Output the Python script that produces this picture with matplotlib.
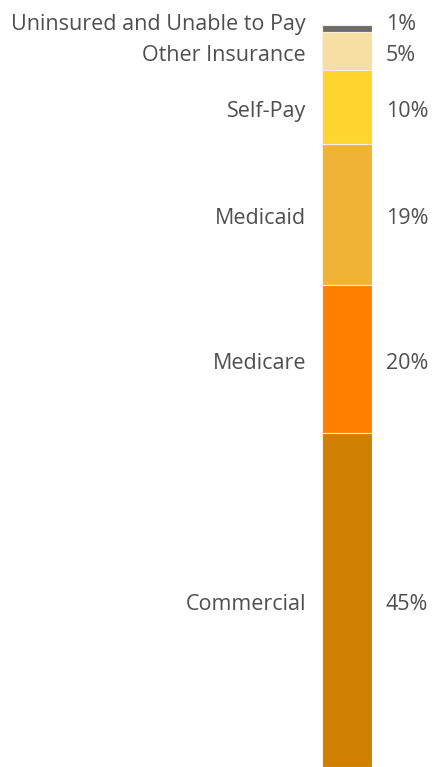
import matplotlib
matplotlib.use("Agg")
import matplotlib.pyplot as plt
from matplotlib.transforms import offset_copy

plt.rcParams['font.family'] = ['Open Sans', 'DejaVu Sans']

# payer mix, listed top to bottom of the stacked bar
categories = ['Uninsured and Unable to Pay', 'Other Insurance', 'Self-Pay',
              'Medicaid', 'Medicare', 'Commercial']
shares = [1, 5, 10, 19, 20, 45]
colors = ['#6b6b6b', '#f5dfa3', '#ffd530', '#f0b335', '#ff8000', '#d08000']

W, H = 432, 767
fig = plt.figure(figsize=(W / 100, H / 100), dpi=100)
ax = fig.add_axes([322 / W, 0, 50 / W, 742 / H])

text_color = '#4f4f4f'
bottom = 0
for cat, val, col in zip(categories, shares, colors):
    ax.bar(0.5, val, width=1, bottom=bottom, color=col,
           edgecolor='#fbefd8', linewidth=0.8)
    mid = bottom + val / 2
    # nudge labels down onto the segment middle; the thin top one goes up
    shift = 4 if val < 3 else -4.5
    trans = offset_copy(ax.transData, fig=fig, x=0, y=shift, units='dots')
    ax.text(-0.32, mid, cat, ha='right', va='center', fontsize=15.5,
            color=text_color, transform=trans, clip_on=False)
    ax.text(1.28, mid, f'{val}%', ha='left', va='center', fontsize=15.5,
            color=text_color, transform=trans, clip_on=False)
    bottom += val

ax.set_xlim(0, 1)
ax.set_ylim(100, 0)
ax.axis('off')

fig.savefig('out.png', dpi=100)
